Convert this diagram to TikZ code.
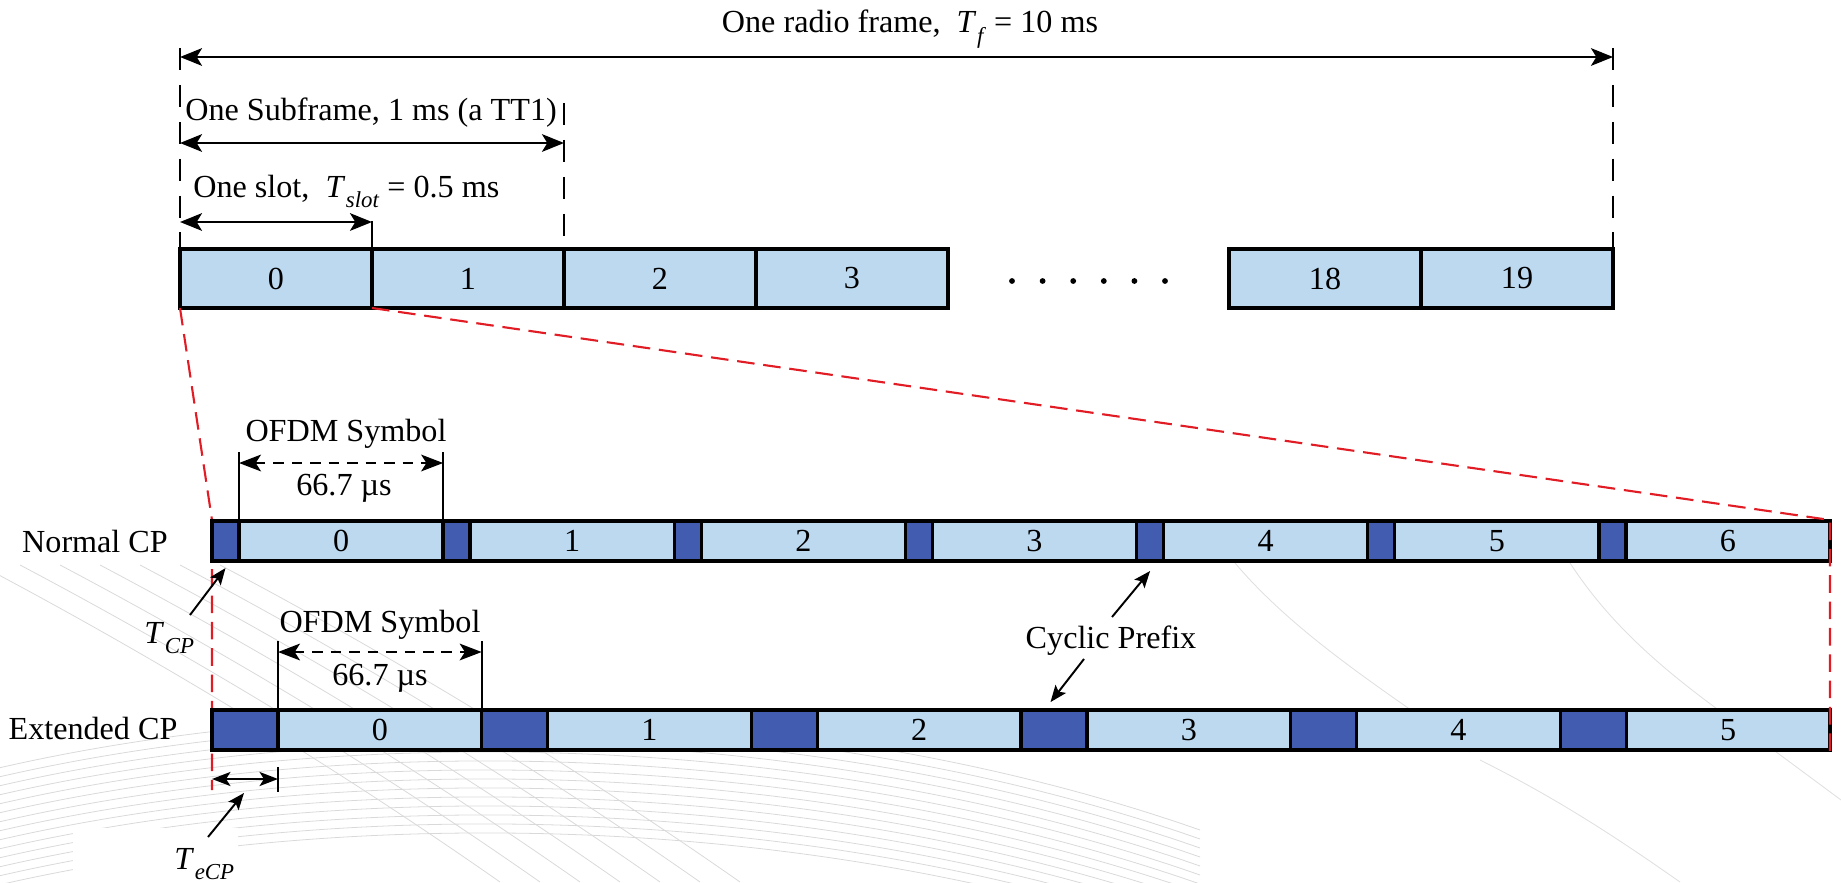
\documentclass[tikz,border=0pt]{standalone}
\usepackage{fontspec}
\setmainfont{Liberation Serif}
\usetikzlibrary{arrows.meta}
\definecolor{cellblue}{RGB}{189,217,240}
\definecolor{cpblue}{RGB}{66,92,176}
\definecolor{zoomred}{RGB}{226,28,36}
% italic T with a lowered italic subscript
\newcommand\Tsub[1]{\textit{T}\kern0.02em\raisebox{-0.32em}{\fontsize{13}{13}\selectfont\textit{#1}}}

\begin{document}
\begin{tikzpicture}[x=0.02cm, y=-0.02cm,
  font=\fontsize{18.3}{22}\selectfont,
  slotcell/.style={draw, line width=2.3pt, fill=cellblue, minimum width=192*0.02cm,
    minimum height=59*0.02cm, inner sep=0pt, outer sep=0pt},
  symcell/.style={draw, line width=2pt, fill=cellblue, minimum height=40*0.02cm,
    inner sep=0pt, outer sep=0pt},
  cpcell/.style={symcell, fill=cpblue},
  guide/.style={line width=1.3pt, dash pattern=on 12.5pt off 8.5pt},
  dimspan/.style={line width=1.5pt,
    {Stealth[length=12.5pt,width=10pt,inset=3pt]}-{Stealth[length=12.5pt,width=10pt,inset=3pt]}},
  symspan/.style={line width=1.3pt, dash pattern=on 6pt off 4.5pt,
    {Stealth[length=12.5pt,width=9.5pt,inset=3pt]}-{Stealth[length=12.5pt,width=9.5pt,inset=3pt]}},
  cpspan/.style={line width=1.2pt,
    {Stealth[length=10.5pt,width=8pt,inset=2.5pt]}-{Stealth[length=10.5pt,width=8pt,inset=2.5pt]}},
  pointer/.style={line width=1.1pt, -{Stealth[length=9.5pt,width=7.5pt,inset=2pt]}},
  tick/.style={line width=1.1pt},
  redzoom/.style={draw=zoomred, line width=1.2pt, dash pattern=on 10pt off 5pt},
  dotmark/.style={circle, fill, inner sep=0pt, minimum size=3.3pt},
]
\useasboundingbox (0,0) rectangle (1841,882);

% faint paper texture
\begin{scope}[draw=black!15, line width=0.45pt]
  \foreach \i in {0,...,13} {
    \draw (-10,770+9*\i) .. controls (330,690+9*\i) and (800,690+9*\i) .. (1200,830+9*\i);
  }
  \foreach \i in {0,...,6} {
    \draw (-20+40*\i,565) .. controls (160+40*\i,660) and (340+40*\i,770) .. (500+40*\i,882);
  }
\end{scope}
\begin{scope}[draw=black!12, line width=0.5pt]
  \draw (1570,563) .. controls (1620,640) and (1690,690) .. (1760,740) -- (1841,800);
  \draw (1235,563) .. controls (1300,640) and (1400,700) .. (1470,752);
  \draw (1480,760) .. controls (1560,800) and (1620,840) .. (1680,882);
\end{scope}
\fill[white] (73,828) rectangle (238,882);

% ---------- radio frame: 20 slots ----------
\node[slotcell] (s0) at (276,278.5) {0};
\node[slotcell] (s1) at (468,278.5) {1};
\node[slotcell] (s2) at (660,278.5) {2};
\node[slotcell] (s3) at (852,278.5) {3};
\node[slotcell] (s18) at (1325,278.5) {18};
\node[slotcell] (s19) at (1517,278.5) {19};
\foreach \i in {0,...,5} {
  \node[dotmark] (dot\i) at (1012+30.6*\i,281) {};
}

% extension lines
\coordinate (gL) at (180,48);
\coordinate (gR) at (1613,48);
\coordinate (gM) at (564,103);
\draw[guide] (gL) -- (s0.north west);
\draw[guide] (gR) -- (s19.north east);
\draw[guide] (gM) -- (s1.north east);

% duration arrows
\draw[dimspan] (gL |- 0,57) -- (gR |- 0,57);
\draw[dimspan] (gL |- 0,143) -- (gM |- 0,143);
\draw[dimspan] (gL |- 0,222) -- (s0.north east |- 0,222);
\draw[tick] (s0.north east |- 0,221) -- (s0.north east);

\node[anchor=base] (lframe) at (910,33) {One radio frame,\ \ \Tsub{f} = 10 ms};
\node[anchor=base west, inner sep=0pt] (lsub) at (185,120) {One Subframe, 1 ms (a TT1)};
\node[anchor=base west, inner sep=0pt] (lslot) at (193,197) {One slot,\ \ \Tsub{slot} = 0.5 ms};

% ---------- zoom into slot 0 ----------
\coordinate (nTL) at (212,520);
\coordinate (nTR) at (1830,520);
\coordinate (eBR) at (1830,752);
\coordinate (redL) at (212,790);
\draw[redzoom] (s0.south west) -- (nTL) -- (redL);

% normal cyclic prefix: 7 symbols
\foreach \k in {0,...,6} {
  \pgfmathsetmacro{\xa}{212+231.143*\k}
  \node[cpcell, minimum width=27*0.02cm] (ncp\k) at (\xa+13.5,541) {};
  \node[symcell, minimum width=204.14*0.02cm] (nsym\k) at (\xa+129.07,541) {\k};
}
% extended cyclic prefix: 6 symbols
\foreach \k in {0,...,5} {
  \pgfmathsetmacro{\xa}{212+269.667*\k}
  \node[cpcell, minimum width=66*0.02cm] (ecp\k) at (\xa+33,730) {};
  \node[symcell, minimum width=203.67*0.02cm] (esym\k) at (\xa+167.83,730) {\k};
}

\draw[redzoom] (s0.south east) -- (nTR) -- (eBR);

\node[anchor=base] (lnormal) at (95,552) {Normal CP};
\node[anchor=base] (lext) at (93,739) {Extended CP};

% OFDM symbol duration, normal CP
\draw[tick] (nsym0.north west |- 0,452) -- (nsym0.north west);
\draw[tick] (nsym0.north east |- 0,452) -- (nsym0.north east);
\draw[symspan] (nsym0.north west |- 0,463) -- (nsym0.north east |- 0,463);
\node[anchor=base] (onorm) at (346,441) {OFDM Symbol};
\node[anchor=base] (dnorm) at (344,495) {66.7 µs};

% OFDM symbol duration, extended CP
\draw[tick] (esym0.north west |- 0,641) -- (esym0.north west);
\draw[tick] (esym0.north east |- 0,641) -- (esym0.north east);
\draw[symspan] (esym0.north west |- 0,652) -- (esym0.north east |- 0,652);
\node[anchor=base] (oext) at (380,632) {OFDM Symbol};
\node[anchor=base] (dext) at (380,685) {66.7 µs};

% CP lengths
\node[anchor=base west, inner sep=0pt] (tcp) at (144,643) {\Tsub{CP}};
\coordinate (tcpTail) at (190,615);
\draw[pointer] (tcpTail) -- ([yshift=-4pt]ncp0.south);

\coordinate (ecpL) at (212,779);
\coordinate (ecpR) at (ecp0.south east |- 0,779);
\draw[cpspan] (ecpL) -- (ecpR);
\draw[tick] (ecp0.south east |- 0,767) -- (ecp0.south east |- 0,792);
\node[anchor=base west, inner sep=0pt] (tecp) at (174,869) {\Tsub{eCP}};
\coordinate (tecpTail) at (208,837);
\coordinate (tecpTip) at (244,793);
\draw[pointer] (tecpTail) -- (tecpTip);

% cyclic prefix callout
\node[anchor=base] (lcyc) at (1111,648) {Cyclic Prefix};
\coordinate (cycUp) at (1112,617);
\coordinate (cycDown) at (1084,659);
\draw[pointer] (cycUp) -- ([yshift=-5.7pt]ncp4.south);
\draw[pointer] (cycDown) -- ([xshift=-2pt,yshift=4.5pt]ecp3.north);
\end{tikzpicture}
\end{document}
